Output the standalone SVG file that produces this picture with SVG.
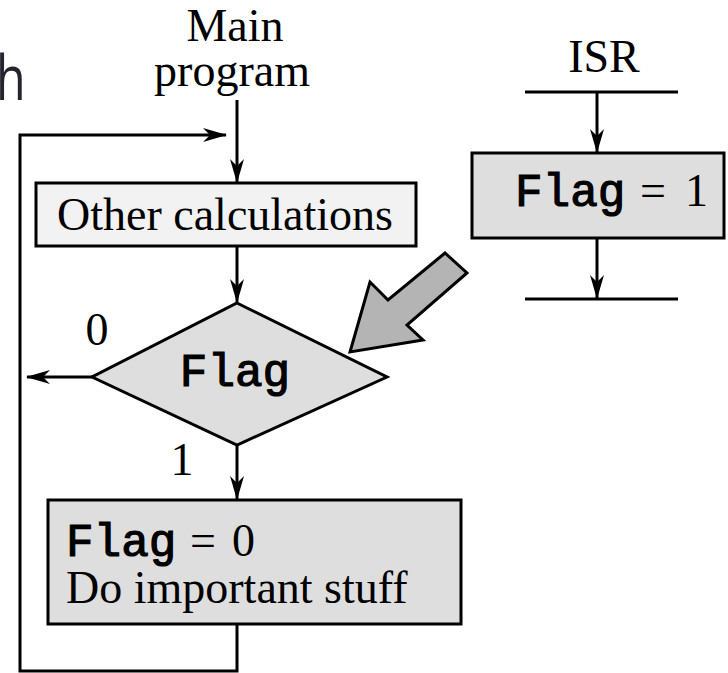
<svg xmlns="http://www.w3.org/2000/svg" width="728" height="673" viewBox="0 0 728 673">
<style>
.serif{font-family:"Liberation Serif","Times New Roman",serif;font-size:46px;fill:#000}
.mono{font-family:"Liberation Mono","Courier New",monospace;font-size:46px;font-weight:normal;fill:#000;stroke:#000;stroke-width:1.2}
.ln{stroke:#000;stroke-width:3;fill:none}
.box{stroke:#000;stroke-width:3}
</style>
<defs>
<marker id="ah" viewBox="0 0 24 16" refX="23" refY="8" markerWidth="24" markerHeight="16" markerUnits="userSpaceOnUse" orient="auto">
<path d="M0,1 L24,8 L0,15 L7,8 z" fill="#000"/>
</marker>
</defs>
<rect width="728" height="673" fill="#fff"/>
<text x="-5" y="100" transform="scale(0.78,1)" style="font-family:'Open Sans','Liberation Sans',sans-serif;font-size:62px;fill:#24242e">h</text>

<g id="connectors">
<line class="ln" x1="237" y1="100" x2="237" y2="182" marker-end="url(#ah)"/>
<polyline class="ln" points="237,625 237,671 20,671 20,135 226,135" marker-end="url(#ah)"/>
<line class="ln" x1="237" y1="246" x2="237" y2="302" marker-end="url(#ah)"/>
<line class="ln" x1="92" y1="377" x2="27" y2="377" marker-end="url(#ah)"/>
<line class="ln" x1="237" y1="445" x2="237" y2="499" marker-end="url(#ah)"/>
<line class="ln" x1="525" y1="92" x2="678" y2="92"/>
<line class="ln" x1="597" y1="92" x2="597" y2="152" marker-end="url(#ah)"/>
<line class="ln" x1="597" y1="238" x2="597" y2="298" marker-end="url(#ah)"/>
<line class="ln" x1="525" y1="299" x2="678" y2="299"/>
</g>

<g id="label-main">
<text class="serif" x="235" y="41" text-anchor="middle">Main</text>
<text class="serif" x="232" y="86" text-anchor="middle">program</text>
</g>
<g id="label-isr">
<text class="serif" x="604" y="72" text-anchor="middle">ISR</text>
</g>

<g id="other-calc">
<rect class="box" x="36" y="183" width="380" height="63" fill="#f2f2f2"/>
<text class="serif" x="225" y="230" text-anchor="middle">Other calculations</text>
</g>

<g id="decision">
<polygon class="box" points="237,303 387,377 237,445 92,377" fill="#dedede"/>
<text class="mono" x="235" y="386" text-anchor="middle">Flag</text>
<text class="serif" x="97" y="345" text-anchor="middle">0</text>
<text class="serif" x="182" y="475" text-anchor="middle">1</text>
</g>

<g id="important">
<rect class="box" x="48" y="500" width="413" height="124" fill="#dedede"/>
<text x="66" y="556"><tspan class="mono">Flag</tspan><tspan class="serif" x="190">=</tspan><tspan class="serif" x="232">0</tspan></text>
<text class="serif" x="66" y="603">Do important stuff</text>
</g>

<g id="isr-set">
<rect class="box" x="472" y="153" width="252" height="85" fill="#dedede"/>
<text x="515" y="206"><tspan class="mono">Flag</tspan><tspan class="serif" x="640">=</tspan><tspan class="serif" x="685">1</tspan></text>
</g>

<g id="interrupt-arrow">
<polygon points="350,352 370,282 388,300 445,253 467,273 407,325 423,340" fill="#b4b4b4" stroke="#000" stroke-width="3" stroke-linejoin="miter"/>
</g>
</svg>
